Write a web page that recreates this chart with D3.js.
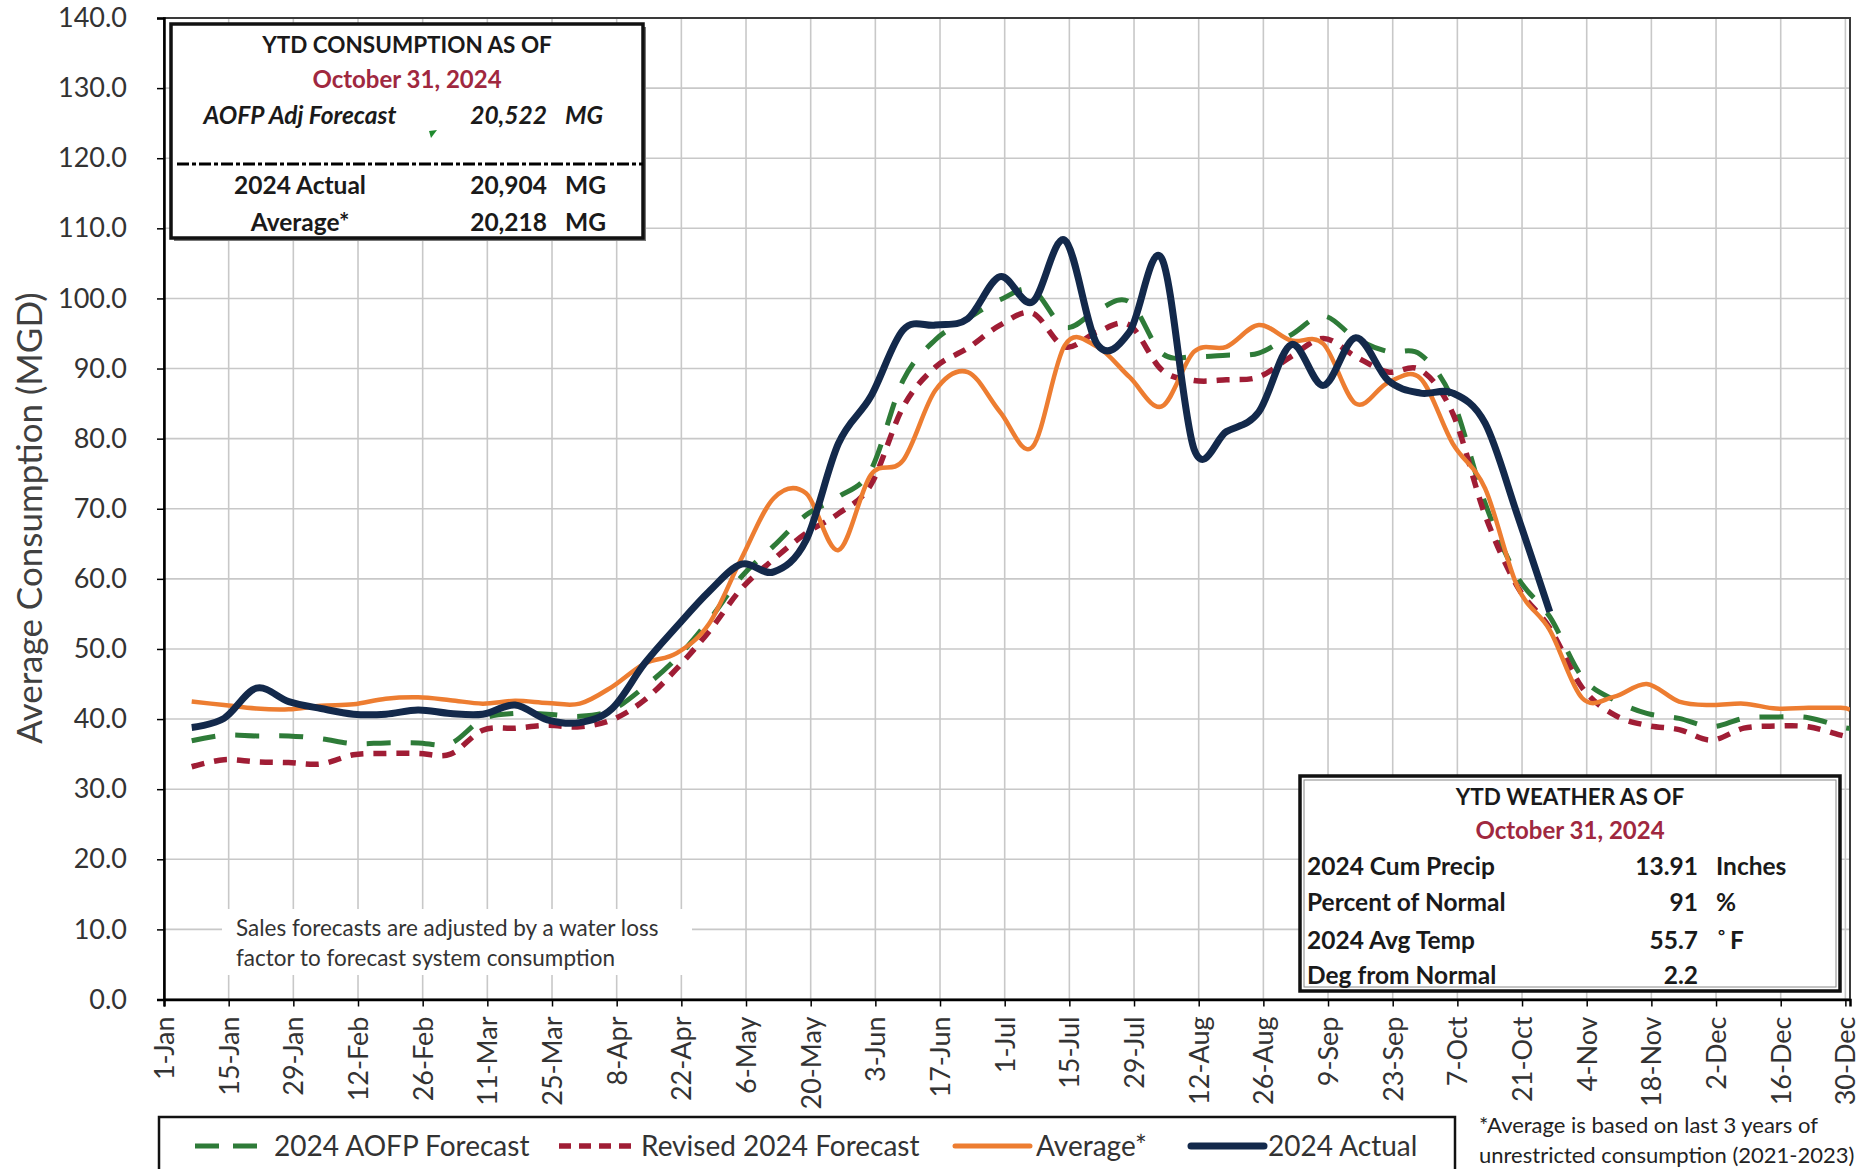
<!DOCTYPE html>
<html>
<head>
<meta charset="utf-8">
<style>
  body { margin: 0; background: #fff; font-family: Lato, 'Open Sans', sans-serif; }
  .grid line { stroke: #c8c8c8; stroke-width: 1.6; }
  .axis text { fill: #333; font-family: Lato, sans-serif; font-size: 27px; }
  .axis .domain { stroke: #000; stroke-width: 2.5; }
  .axis .tick line { stroke: #000; stroke-width: 1.5; }
  .box text { font-family: Lato, sans-serif; font-weight: bold; font-size: 24.5px; fill: #1a1a1a; }
</style>
</head>
<body>
<svg id="chart" width="1873" height="1169"></svg>
<script src="https://cdn.jsdelivr.net/npm/d3@7"></script>
<script>
// weekly points (Sundays) Jan 7 .. Dec 29, forecasts run on to the plot edge (Dec 31)
var weeks = d3.timeDay.range(new Date(2024, 0, 7), new Date(2024, 11, 30), 7);
var fcDates = weeks.concat([new Date(2024, 11, 31)]);

var actual2024 = [38.8, 40.1, 44.4, 42.5, 41.5, 40.7, 40.7, 41.3, 40.8, 40.7,
  42.0, 39.9, 39.5, 41.5, 47.9, 53.2, 58.2, 62.1, 61.0, 65.5,
  79.3, 86.0, 95.5, 96.2, 97.1, 103.1, 99.5, 108.3, 93.5, 95.2,
  105.7, 78.5, 81.0, 83.8, 93.4, 87.6, 94.4, 88.3, 86.5, 86.5,
  82.2, 69.1, 55.3];

var average = [42.5, 42.0, 41.5, 41.4, 41.9, 42.1, 42.9, 43.1, 42.7, 42.2,
  42.6, 42.3, 42.2, 44.6, 47.9, 49.4, 53.6, 62.9, 71.5, 72.2,
  64.1, 74.8, 76.9, 86.9, 89.5, 83.8, 78.8, 93.3, 93.1, 88.8,
  84.6, 92.4, 93.1, 96.2, 94.0, 93.5, 85.0, 88.0, 88.6, 79.3,
  72.9, 58.9, 52.7, 43.0, 43.2, 45.0, 42.5, 42.0, 42.2, 41.5,
  41.6, 41.6, 41.3];

var aofpForecast = [36.9, 37.7, 37.6, 37.6, 37.2, 36.5, 36.6, 36.6, 36.5, 40.0,
  40.8, 40.7, 40.4, 41.3, 44.6, 48.7, 54.1, 60.3, 64.7, 69.1,
  71.7, 75.5, 88.3, 94.1, 97.1, 99.8, 101.2, 95.9, 98.3, 99.5,
  92.2, 91.7, 91.9, 92.2, 94.8, 97.5, 94.3, 92.4, 92.0, 85.5,
  70.8, 60.3, 54.6, 46.0, 42.7, 40.8, 40.1, 38.9, 40.1, 40.3,
  40.2, 38.9, 38.7];

var revisedForecast = [33.2, 34.2, 33.9, 33.8, 33.6, 34.9, 35.1, 35.1, 35.0, 38.4,
  38.7, 39.1, 38.9, 39.9, 42.7, 47.2, 52.5, 58.6, 62.8, 66.5,
  69.3, 73.4, 84.5, 90.2, 92.9, 96.2, 97.9, 93.1, 95.2, 96.2,
  89.8, 88.3, 88.4, 88.8, 91.7, 94.3, 91.7, 89.5, 89.8, 83.6,
  69.1, 58.9, 53.0, 44.5, 40.6, 39.1, 38.5, 37.0, 38.7, 39.0,
  38.9, 37.7, 37.4];

var seriesNames = ["2024 AOFP Forecast", "Revised 2024 Forecast", "Average*", "2024 Actual"];
var seriesColors = ["#2e7b38", "#a01d35", "#ed7d31", "#13294b"];

var yTicks = d3.range(0, 141, 10);
var xTicks = d3.timeDay.range(new Date(2024, 0, 1), new Date(2024, 11, 31), 14);

var ytdConsumption = [["AOFP Adj Forecast", "20,522", "MG"], ["2024 Actual", "20,904", "MG"], ["Average*", "20,218", "MG"]];
var ytdWeather = [["2024 Cum Precip", "13.91", "Inches"], ["Percent of Normal", "91", "%"],
  ["2024 Avg Temp", "55.7", "°F"], ["Deg from Normal", "2.2", ""]];

var svg = d3.select("#chart");
var plotL = 164, plotR = 1850, plotT = 18, plotB = 999.5;

var x = d3.scaleTime().domain([new Date(2024, 0, 1), new Date(2024, 11, 31)]).range([plotL, plotR]);
var y = d3.scaleLinear().domain([0, 140]).range([plotB, plotT]);

// grid
var grid = svg.append("g").attr("class", "grid");
grid.selectAll("line.h").data(yTicks).enter().append("line")
  .attr("x1", plotL).attr("x2", plotR)
  .attr("y1", function(d) { return y(d); }).attr("y2", function(d) { return y(d); });
grid.selectAll("line.v").data(xTicks).enter().append("line")
  .attr("y1", plotT).attr("y2", plotB)
  .attr("x1", function(d) { return x(d); }).attr("x2", function(d) { return x(d); });

// plot border
svg.append("rect").attr("x", plotL).attr("y", plotT).attr("width", plotR - plotL).attr("height", plotB - plotT)
  .attr("fill", "none").attr("stroke", "#3a3a3a").attr("stroke-width", 2);

// axes
var yAxis = svg.append("g").attr("class", "axis")
  .attr("transform", "translate(" + plotL + ",0)")
  .call(d3.axisLeft(y).tickValues(yTicks).tickFormat(d3.format(".1f")).tickSize(7).tickPadding(30));

var xAxis = svg.append("g").attr("class", "axis")
  .attr("transform", "translate(0," + plotB + ")")
  .call(d3.axisBottom(x).tickValues(xTicks).tickFormat(d3.timeFormat("%-d-%b")).tickSize(7));
xAxis.selectAll("text")
  .attr("transform", "rotate(-90)")
  .attr("x", -17).attr("y", 0).attr("dy", "0.35em")
  .style("text-anchor", "end");

svg.append("text")
  .attr("transform", "translate(42,518) rotate(-90)")
  .attr("text-anchor", "middle")
  .attr("font-size", 35).attr("fill", "#404040")
  .text("Average Consumption (MGD)");

// note on the plot
svg.append("rect").attr("x", 222).attr("y", 909).attr("width", 470).attr("height", 66).attr("fill", "#fff");
svg.append("text").attr("x", 236).attr("y", 936).attr("font-size", 22.5).attr("fill", "#333")
  .text("Sales forecasts are adjusted by a water loss");
svg.append("text").attr("x", 236).attr("y", 966).attr("font-size", 22.5).attr("fill", "#333")
  .text("factor to forecast system consumption");

// lines
svg.append("clipPath").attr("id", "plotclip").append("rect")
  .attr("x", plotL).attr("y", plotT).attr("width", plotR - plotL).attr("height", plotB - plotT);

var line = d3.line()
  .x(function(d) { return x(d[0]); })
  .y(function(d) { return y(d[1]); })
  .curve(d3.curveCardinal.tension(0));

var lines = svg.append("g").attr("clip-path", "url(#plotclip)").attr("fill", "none");
lines.append("path").attr("d", line(d3.zip(fcDates, aofpForecast)))
  .attr("stroke", seriesColors[0]).attr("stroke-width", 5).attr("stroke-dasharray", "24,20");
lines.append("path").attr("d", line(d3.zip(fcDates, revisedForecast)))
  .attr("stroke", seriesColors[1]).attr("stroke-width", 5.5).attr("stroke-dasharray", "13,10");
lines.append("path").attr("d", line(d3.zip(fcDates, average)))
  .attr("stroke", seriesColors[2]).attr("stroke-width", 4.5);
lines.append("path").attr("d", line(d3.zip(weeks.slice(0, actual2024.length), actual2024)))
  .attr("stroke", seriesColors[3]).attr("stroke-width", 7).attr("stroke-linejoin", "round");

// YTD consumption box
var b1 = svg.append("g").attr("class", "box");
b1.append("rect").attr("x", 174).attr("y", 27).attr("width", 472).attr("height", 214).attr("fill", "#777");
b1.append("rect").attr("x", 171).attr("y", 24).attr("width", 472).attr("height", 214)
  .attr("fill", "#fff").attr("stroke", "#111").attr("stroke-width", 3.5);
b1.append("text").attr("x", 407).attr("y", 53).attr("text-anchor", "middle").style("font-size", "22.5px")
  .text("YTD CONSUMPTION AS OF");
b1.append("text").attr("x", 407).attr("y", 88).attr("text-anchor", "middle")
  .style("fill", "#a0283f").style("font-size", "24px").text("October 31, 2024");
var rowY = [124, 194, 231];
ytdConsumption.forEach(function(r, i) {
  var t = b1.append("text").attr("x", 300).attr("y", rowY[i]).attr("text-anchor", "middle").text(r[0]);
  var v = b1.append("text").attr("x", 547).attr("y", rowY[i]).attr("text-anchor", "end").text(r[1]);
  var u = b1.append("text").attr("x", 565).attr("y", rowY[i]).text(r[2]);
  if (i === 0) { t.style("font-style", "italic"); v.style("font-style", "italic"); u.style("font-style", "italic"); }
});
b1.append("line").attr("x1", 177).attr("x2", 643).attr("y1", 164).attr("y2", 164)
  .attr("stroke", "#000").attr("stroke-width", 3).attr("stroke-dasharray", "12,3,4,3");
b1.append("path").attr("d", "M429,131 L437,130 L431,138 Z").attr("fill", "#1f8a2e");

// YTD weather box
var b2 = svg.append("g").attr("class", "box");
b2.append("rect").attr("x", 1300).attr("y", 776).attr("width", 540).attr("height", 215)
  .attr("fill", "#fff").attr("stroke", "#111").attr("stroke-width", 3.5);
b2.append("rect").attr("x", 1304).attr("y", 780).attr("width", 532).attr("height", 207)
  .attr("fill", "none").attr("stroke", "#888").attr("stroke-width", 1);
b2.append("text").attr("x", 1570).attr("y", 805).attr("text-anchor", "middle").style("font-size", "22.5px")
  .text("YTD WEATHER AS OF");
b2.append("text").attr("x", 1570).attr("y", 839).attr("text-anchor", "middle")
  .style("fill", "#a0283f").style("font-size", "24px").text("October 31, 2024");
var wY = [875, 911, 949, 984];
ytdWeather.forEach(function(r, i) {
  b2.append("text").attr("x", 1307).attr("y", wY[i]).text(r[0]);
  b2.append("text").attr("x", 1698).attr("y", wY[i]).attr("text-anchor", "end").text(r[1]);
  if (r[2] === "°F") {
    var u = b2.append("text").attr("x", 1718).attr("y", wY[i]);
    u.append("tspan").attr("dy", -7).style("font-size", "17px").text("°");
    u.append("tspan").attr("dy", 7).attr("dx", 5).text("F");
  } else {
    b2.append("text").attr("x", 1716).attr("y", wY[i]).text(r[2]);
  }
});

// legend
var lg = svg.append("g");
lg.append("rect").attr("x", 159).attr("y", 1117).attr("width", 1296).attr("height", 80)
  .attr("fill", "#fff").attr("stroke", "#111").attr("stroke-width", 2.5);
var legX = [[195, 265, 274], [559, 631, 641], [955, 1030, 1036], [1191, 1264, 1268]];
var legDash = ["24,14", "12,8", null, null];
var legW = [5, 5.5, 5, 7];
seriesNames.forEach(function(name, i) {
  var s = lg.append("line").attr("x1", legX[i][0]).attr("x2", legX[i][1]).attr("y1", 1146).attr("y2", 1146)
    .attr("stroke", seriesColors[i]).attr("stroke-width", legW[i]);
  if (legDash[i]) s.attr("stroke-dasharray", legDash[i]);
  else s.attr("stroke-linecap", "round");
  lg.append("text").attr("x", legX[i][2]).attr("y", 1156).attr("font-size", 28).attr("fill", "#333").text(name);
});

// footnote
svg.append("text").attr("x", 1479).attr("y", 1133).attr("font-size", 22).attr("fill", "#222")
  .text("*Average is based on last 3 years of");
svg.append("text").attr("x", 1479).attr("y", 1163).attr("font-size", 22).attr("fill", "#222")
  .text("unrestricted consumption (2021-2023)");
</script>
</body>
</html>
